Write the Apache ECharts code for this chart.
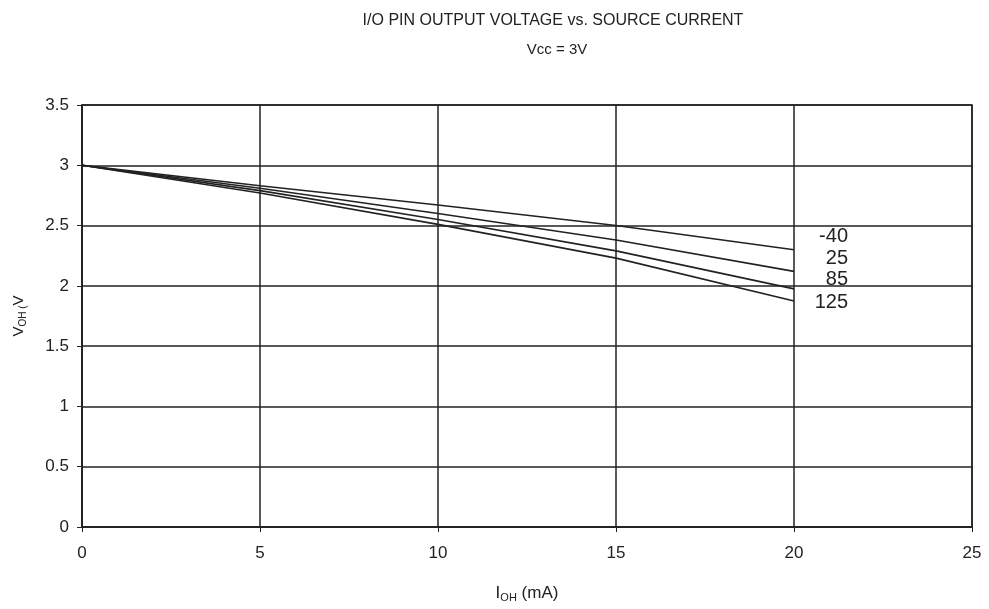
<!DOCTYPE html>
<html><head><meta charset="utf-8">
<script src="https://cdn.jsdelivr.net/npm/echarts@6/dist/echarts.min.js"></script>
<style>html,body{margin:0;padding:0;background:#fff}#c{width:989px;height:609px}</style>
</head><body><div id="c"></div>
<script>
const current = [0, 5, 10, 15, 20];
const vM40 = [3.0, 2.83, 2.67, 2.50, 2.30];
const v25 = [3.0, 2.81, 2.60, 2.38, 2.12];
const v85 = [3.0, 2.79, 2.55, 2.29, 1.975];
const v125 = [3.0, 2.77, 2.51, 2.23, 1.875];
const seriesNames = ['-40', '25', '85', '125'];
const seriesValues = [vM40, v25, v85, v125];
const labelOffsets = [[54, -13], [54, -13], [54, -9], [54, 2]];

const chart = echarts.init(document.getElementById('c'));
const font = 'Liberation Sans, Arial, sans-serif';
chart.setOption({
  animation: false,
  backgroundColor: '#fff',
  title: [
    {text: 'I/O PIN OUTPUT VOLTAGE vs. SOURCE CURRENT', left: 548, top: 8, textAlign: 'center',
     textStyle: {fontFamily: font, fontSize: 16, fontWeight: 'normal', color: '#222'}},
    {text: 'Vcc = 3V', left: 552, top: 37, textAlign: 'center',
     textStyle: {fontFamily: font, fontSize: 15, fontWeight: 'normal', color: '#222'}}
  ],
  grid: {left: 82, right: 17, top: 105, bottom: 82, show: true, borderColor: '#222', borderWidth: 1.5},
  xAxis: {
    type: 'value', min: 0, max: 25, interval: 5,
    name: '{m|I}{s|OH}{m| (mA)}', nameLocation: 'middle', nameGap: 56,
    nameTextStyle: {rich: {m: {fontFamily: font, fontSize: 17, color: '#222'}, s: {fontFamily: font, fontSize: 11, color: '#222', padding: [9,0,0,0]}}},
    axisLine: {lineStyle: {color: '#222', width: 1.5}},
    axisTick: {show: true, length: 5, lineStyle: {color: '#222'}},
    axisLabel: {fontFamily: font, fontSize: 17, color: '#222', margin: 18},
    splitLine: {show: true, lineStyle: {color: '#222', width: 1.5}}
  },
  yAxis: {
    type: 'value', min: 0, max: 3.5, interval: 0.5,
    name: '{m|V}{s|OH (}{m|V}', nameLocation: 'middle', nameGap: 54, nameRotate: 90,
    nameTextStyle: {rich: {m: {fontFamily: font, fontSize: 15, color: '#222'}, s: {fontFamily: font, fontSize: 10, color: '#222', padding: [8,0,0,0]}}},
    axisLine: {show: true, lineStyle: {color: '#222', width: 1.5}},
    axisTick: {show: true, length: 5, lineStyle: {color: '#222'}},
    axisLabel: {fontFamily: font, fontSize: 17, color: '#222', margin: 13},
    splitLine: {show: true, lineStyle: {color: '#222', width: 1.5}}
  },
  series: seriesNames.map((n, i) => ({
    name: n, type: 'line', showSymbol: false, symbol: 'none',
    data: current.map((x, j) => [x, seriesValues[i][j]]),
    lineStyle: {color: '#222', width: 1.6},
    endLabel: {show: true, formatter: n, align: 'right', distance: 0, offset: labelOffsets[i],
      fontFamily: font, fontSize: 20, color: '#222'}
  }))
});
</script></body></html>
